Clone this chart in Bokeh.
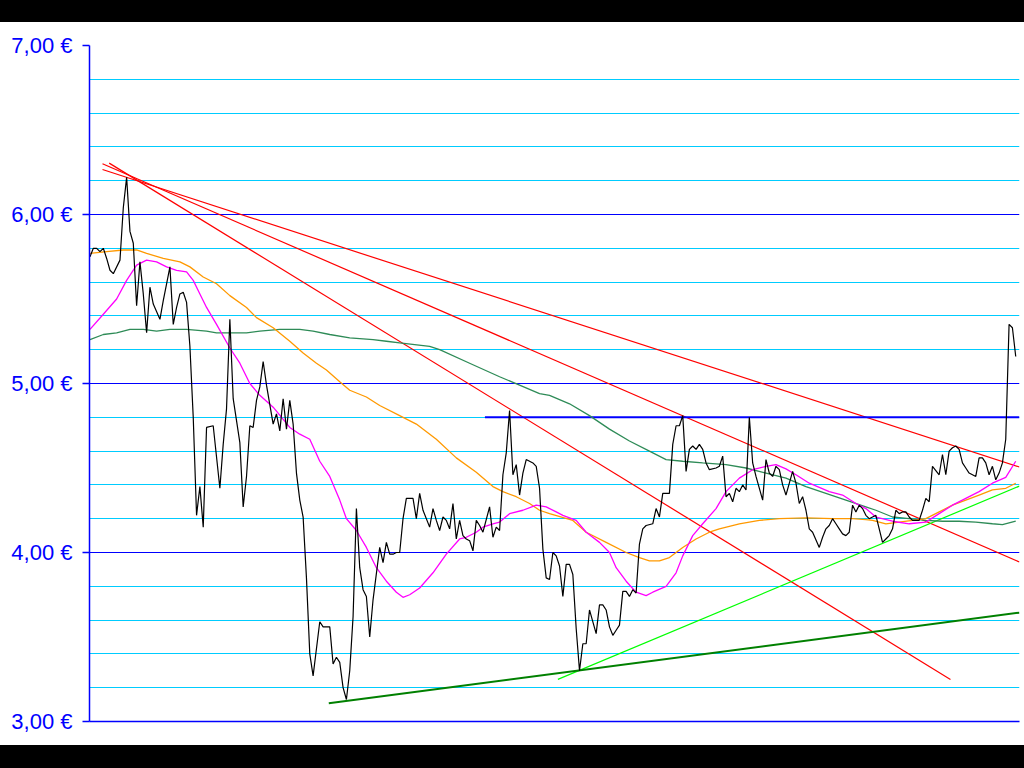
from bokeh.plotting import figure
from bokeh.models import Range1d, FixedTicker, CustomJSTickFormatter, ColumnDataSource, Div
from bokeh.layouts import column
from bokeh.embed import file_html
from bokeh.resources import INLINE

# ---- data (trading-day index, closing price in EUR) ----
days = [0, 1, 2, 3, 4, 5, 6, 7, 9, 10, 11, 12, 13, 14, 15, 16, 17, 18, 19, 21, 22, 23, 24, 25, 26, 27, 28, 29,
        30, 31, 32, 33, 34, 35, 37, 39, 40, 41, 42, 43, 44, 45, 46, 47, 48, 49, 50, 51, 52, 53, 55, 56, 57, 58,
        59, 60, 61, 62, 63, 64, 65, 66, 67, 69, 70, 71, 72, 73, 74, 75, 76, 77, 78, 79, 80, 81, 82, 83, 84, 85,
        87, 88, 89, 90, 91, 92, 93, 94, 95, 96, 97, 98, 99, 100, 102, 103, 104, 105, 106, 107, 108, 109, 110,
        111, 112, 113, 114, 115, 116, 117, 118, 120, 121, 122, 123, 124, 125, 126, 127, 128, 129, 130, 131, 133,
        134, 135, 136, 137, 138, 139, 140, 141, 142, 143, 144, 145, 146, 147, 148, 149, 150, 152, 153, 154, 155,
        156, 157, 158, 159, 160, 161, 162, 163, 164, 165, 166, 167, 169, 170, 171, 172, 173, 174, 175, 176, 177,
        178, 179, 180, 181, 182, 183, 184, 185, 186, 188, 189, 190, 191, 192, 193, 194, 195, 196, 197, 198, 199,
        200, 202, 203, 204, 205, 206, 207, 208, 209, 211, 212, 213, 214, 215, 216, 217, 219, 220, 221, 222, 223,
        224, 225, 226, 227, 228, 229, 230, 231, 232, 233, 234, 235, 236, 237, 238, 239, 240, 241, 242, 243, 244,
        245, 246, 247, 248, 249, 250, 251, 252, 253, 255, 256, 257, 258, 259, 260, 261, 262, 263, 264, 266, 267,
        268, 269, 270, 271, 272, 273, 274, 275, 276, 277, 278]
close = [5.75, 5.80, 5.80, 5.78, 5.80, 5.74, 5.67, 5.65, 5.73, 6.04, 6.22, 5.90, 5.83, 5.46, 5.72, 5.53, 5.30,
         5.57, 5.47, 5.38, 5.49, 5.59, 5.69, 5.35, 5.45, 5.53, 5.54, 5.48, 5.22, 4.80, 4.22, 4.39, 4.15, 4.74,
         4.75, 4.38, 4.64, 4.85, 5.38, 4.91, 4.78, 4.65, 4.27, 4.45, 4.75, 4.74, 4.90, 4.98, 5.13, 4.99, 4.76,
         4.82, 4.72, 4.91, 4.73, 4.90, 4.76, 4.47, 4.31, 4.21, 3.85, 3.40, 3.27, 3.59, 3.56, 3.56, 3.56, 3.34,
         3.38, 3.35, 3.20, 3.13, 3.30, 3.62, 4.26, 3.91, 3.78, 3.74, 3.50, 3.72, 4.03, 3.94, 4.06, 3.99, 3.99,
         4.00, 4.00, 4.20, 4.32, 4.32, 4.32, 4.20, 4.35, 4.25, 4.15, 4.26, 4.19, 4.13, 4.21, 4.19, 4.14, 4.29,
         4.08, 4.19, 4.10, 4.08, 4.07, 4.01, 4.19, 4.16, 4.12, 4.27, 4.09, 4.15, 4.13, 4.46, 4.59, 4.84, 4.46,
         4.52, 4.34, 4.47, 4.55, 4.53, 4.51, 4.38, 4.02, 3.85, 3.84, 4.00, 3.98, 3.92, 3.74, 3.93, 3.93, 3.87,
         3.55, 3.30, 3.46, 3.46, 3.66, 3.52, 3.69, 3.69, 3.66, 3.56, 3.51, 3.54, 3.57, 3.77, 3.77, 3.74, 3.78,
         3.76, 4.05, 4.14, 4.16, 4.17, 4.26, 4.21, 4.35, 4.35, 4.35, 4.64, 4.75, 4.75, 4.81, 4.48, 4.61, 4.63,
         4.61, 4.64, 4.61, 4.53, 4.49, 4.50, 4.51, 4.57, 4.33, 4.35, 4.30, 4.38, 4.36, 4.40, 4.37, 4.80, 4.53,
         4.45, 4.31, 4.55, 4.47, 4.45, 4.51, 4.49, 4.40, 4.34, 4.48, 4.41, 4.29, 4.33, 4.25, 4.14, 4.12, 4.03,
         4.09, 4.14, 4.16, 4.20, 4.17, 4.14, 4.11, 4.10, 4.12, 4.28, 4.24, 4.28, 4.26, 4.22, 4.20, 4.21, 4.22,
         4.14, 4.06, 4.08, 4.10, 4.14, 4.25, 4.23, 4.24, 4.24, 4.21, 4.19, 4.19, 4.19, 4.25, 4.32, 4.30, 4.51,
         4.46, 4.58, 4.46, 4.60, 4.62, 4.63, 4.61, 4.53, 4.50, 4.47, 4.45, 4.56, 4.56, 4.53, 4.46, 4.51, 4.43,
         4.47, 4.53, 4.67, 5.35, 5.33, 5.16]

# moving averages
ma_fast_days = [0, 4, 8, 11, 14, 17, 20, 23, 26, 29, 31, 33, 35, 38, 42, 45, 48, 51, 55, 60, 63, 66, 69, 72, 75,
                77, 80, 83, 86, 89, 92, 94, 96, 99, 103, 107, 111, 113, 116, 118, 121, 123, 126, 130, 134, 137,
                140, 142, 146, 149, 153, 156, 158, 161, 164, 167, 169, 173, 176, 178, 181, 184, 188, 191, 195, 199,
                203, 206, 209, 212, 216, 222, 226, 230, 233, 236, 241, 246, 251, 255, 259, 263, 267, 271, 275, 278]
ma_fast = [5.32, 5.41, 5.50, 5.61, 5.70, 5.73, 5.72, 5.69, 5.67, 5.66, 5.61, 5.53, 5.45, 5.35, 5.21, 5.12, 5.00,
           4.93, 4.86, 4.74, 4.70, 4.67, 4.54, 4.45, 4.31, 4.20, 4.13, 4.03, 3.91, 3.83, 3.765, 3.735, 3.75, 3.79,
           3.88, 3.99, 4.08, 4.09, 4.12, 4.15, 4.17, 4.18, 4.23, 4.25, 4.28, 4.27, 4.24, 4.22, 4.19, 4.12, 4.06,
           4.00, 3.91, 3.83, 3.765, 3.745, 3.765, 3.80, 3.88, 3.98, 4.10, 4.17, 4.26, 4.36, 4.44, 4.49, 4.51, 4.52,
           4.495, 4.46, 4.41, 4.36, 4.34, 4.29, 4.26, 4.21, 4.185, 4.17, 4.18, 4.23, 4.28, 4.32, 4.36, 4.41, 4.445,
           4.54]
ma_mid_days = [0, 5, 10, 14, 17, 22, 27, 30, 34, 38, 42, 47, 50, 55, 60, 64, 68, 71, 75, 78, 83, 87, 93, 98, 104,
               110, 116, 121, 124, 128, 132, 135, 138, 145, 149, 155, 161, 165, 168, 171, 174, 178, 182, 186, 189,
               195, 201, 207, 215, 223, 229, 233, 235, 239, 243, 247, 251, 255, 259, 263, 267, 271, 275, 278]
ma_mid = [5.77, 5.78, 5.79, 5.79, 5.77, 5.74, 5.72, 5.69, 5.63, 5.59, 5.52, 5.45, 5.39, 5.33, 5.25, 5.18, 5.12,
          5.08, 5.01, 4.96, 4.92, 4.87, 4.81, 4.76, 4.67, 4.56, 4.475, 4.39, 4.36, 4.33, 4.29, 4.25, 4.23, 4.19,
          4.12, 4.06, 4.00, 3.97, 3.95, 3.95, 3.97, 4.03, 4.08, 4.12, 4.14, 4.17, 4.19, 4.20, 4.205, 4.20, 4.20,
          4.195, 4.19, 4.17, 4.18, 4.19, 4.20, 4.24, 4.28, 4.31, 4.34, 4.37, 4.38, 4.41]
ma_slow_days = [0, 4, 8, 12, 16, 20, 24, 29, 35, 38, 42, 47, 51, 57, 63, 67, 72, 78, 85, 89, 93, 102, 105, 114,
                123, 129, 135, 138, 144, 150, 156, 162, 168, 173, 178, 184, 191, 197, 203, 209, 215, 221, 227, 233,
                236, 241, 246, 251, 256, 261, 266, 271, 274, 278]
ma_slow = [5.26, 5.29, 5.30, 5.32, 5.32, 5.31, 5.32, 5.32, 5.31, 5.30, 5.30, 5.30, 5.31, 5.32, 5.32, 5.31, 5.29,
           5.27, 5.26, 5.25, 5.24, 5.22, 5.20, 5.12, 5.04, 4.99, 4.94, 4.93, 4.88, 4.81, 4.73, 4.66, 4.60, 4.55,
           4.54, 4.53, 4.52, 4.50, 4.47, 4.44, 4.39, 4.35, 4.31, 4.27, 4.25, 4.21, 4.20, 4.19, 4.185, 4.185, 4.18,
           4.17, 4.165, 4.185]

# trend lines (start day, start value, end day, end value)
red_lines = [(3.75, 6.266, 279.1, 4.506),
             (3.75, 6.300, 279.1, 3.944),
             (5.77, 6.304, 258.4, 3.249)]
support_light = (140.5, 3.249, 279.1, 4.393)
support_dark = (71.7, 3.108, 279.1, 3.644)
resistance_level = (118.6, 279.1, 4.80)

major_ticks = [3, 4, 5, 6, 7]
minor_ticks = [3.2, 3.4, 3.6, 3.8, 4.2, 4.4, 4.6, 4.8, 5.2, 5.4, 5.6, 5.8, 6.2, 6.4, 6.6, 6.8]

# ---- figure ----
p = figure(width=1024, height=723, output_backend="svg", toolbar_location=None,
           x_range=Range1d(-0.15, 279.13), y_range=Range1d(3, 7),
           min_border=0, min_border_left=89, min_border_right=5, min_border_top=23, min_border_bottom=24,
           background_fill_color="white", border_fill_color="white", outline_line_color=None, margin=0)

ticker = FixedTicker(ticks=major_ticks, minor_ticks=minor_ticks)
p.ygrid.ticker = ticker
p.ygrid.grid_line_color = "#0000FF"
p.ygrid.grid_line_width = 1.2
p.ygrid.minor_grid_line_color = "#00CCFF"
p.ygrid.minor_grid_line_width = 1.2
p.xgrid.visible = False

p.yaxis.ticker = ticker
p.yaxis.formatter = CustomJSTickFormatter(code="return tick.toFixed(2).replace('.', ',') + ' \u20ac';")
p.yaxis.axis_line_color = "#0000FF"
p.yaxis.axis_line_width = 1.5
p.yaxis.major_tick_line_color = "#0000FF"
p.yaxis.major_tick_line_width = 1.5
p.yaxis.major_tick_out = 7
p.yaxis.major_tick_in = 0
p.yaxis.minor_tick_line_color = None
p.yaxis.major_label_text_color = "#0000FF"
p.yaxis.major_label_text_font = "Liberation Sans"
p.yaxis.major_label_text_font_size = "22px"
p.yaxis.major_label_standoff = 10

p.xaxis.ticker = FixedTicker(ticks=[])
p.xaxis.axis_line_color = "#0000FF"
p.xaxis.axis_line_width = 1.5
p.xaxis.major_tick_line_color = None
p.xaxis.minor_tick_line_color = None

# trend lines
for (x0, y0, x1, y1) in red_lines:
    p.line([x0, x1], [y0, y1], line_color="#FF0000", line_width=1.2)
p.line([support_light[0], support_light[2]], [support_light[1], support_light[3]],
       line_color="#00FF00", line_width=1.2)
p.line([support_dark[0], support_dark[2]], [support_dark[1], support_dark[3]],
       line_color="#008000", line_width=2)
p.line([resistance_level[0], resistance_level[1]], [resistance_level[2], resistance_level[2]],
       line_color="#0000FF", line_width=2)

# moving averages
p.line(ma_slow_days, ma_slow, line_color="#2E8B57", line_width=1.3)
p.line(ma_mid_days, ma_mid, line_color="#FF9900", line_width=1.3)
p.line(ma_fast_days, ma_fast, line_color="#FF00FF", line_width=1.3)

# price
src = ColumnDataSource(dict(day=days, close=close))
p.line("day", "close", source=src, line_color="#000000", line_width=1.2)

top_bar = Div(width=1024, height=22, margin=0, styles={"background-color": "black"})
bottom_bar = Div(width=1024, height=23, margin=0, styles={"background-color": "black"})
layout = column(top_bar, p, bottom_bar, spacing=0, margin=0,
                styles={"position": "absolute", "left": "0px", "top": "0px"})

open("out.html", "w").write(file_html(layout, INLINE))
